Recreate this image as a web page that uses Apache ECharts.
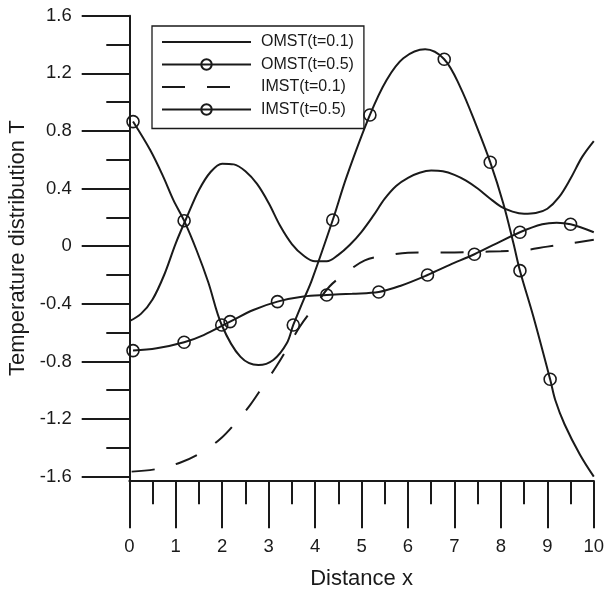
<!DOCTYPE html>
<html>
<head>
<meta charset="utf-8">
<script src="https://cdn.jsdelivr.net/npm/echarts@6/dist/echarts.min.js"></script>
<style>
html,body{margin:0;padding:0;background:#fff;}
#chart{width:606px;height:592px;}
</style>
</head>
<body>
<div id="chart"></div>
<script>
// ---- data ----
const xTicks = [0,1,2,3,4,5,6,7,8,9,10];
const yTicks = [-1.6,-1.2,-0.8,-0.4,0,0.4,0.8,1.2,1.6];
const yMinorTicks = [-1.4,-1.0,-0.6,-0.2,0.2,0.6,1.0,1.4];

const omst01X = [0,0.25,0.5,0.75,1.0,1.25,1.5,1.75,2.0,2.25,2.5,2.75,3.0,3.25,3.5,3.75,4.0,4.25,4.5,4.75,5.0,5.25,5.5,5.75,6.0,6.25,6.5,6.75,7.0,7.25,7.5,7.75,8.0,8.25,8.5,8.75,9.0,9.25,9.5,9.75,10];
const omst01Y = [-0.52,-0.47,-0.37,-0.2,0.02,0.21,0.39,0.515,0.573,0.568,0.52,0.432,0.3,0.14,0.015,-0.065,-0.105,-0.105,-0.06,0.01,0.1,0.21,0.33,0.42,0.475,0.51,0.525,0.52,0.495,0.455,0.4,0.335,0.275,0.24,0.225,0.23,0.26,0.34,0.47,0.62,0.73];

const omst05X = [0.08,0.45,0.73,0.95,1.18,1.45,1.7,1.99,2.39,2.78,3.1,3.39,3.53,3.75,3.93,4.38,4.68,5.18,5.54,5.9,6.37,6.78,7.12,7.48,7.77,8.05,8.27,8.41,8.7,9.06,9.17,9.37,9.7,10];
const omst05Y = [0.865,0.667,0.483,0.32,0.177,-0.03,-0.25,-0.547,-0.767,-0.825,-0.79,-0.674,-0.547,-0.374,-0.235,0.182,0.483,0.911,1.154,1.305,1.367,1.298,1.108,0.83,0.583,0.298,0.02,-0.17,-0.49,-0.924,-1.068,-1.236,-1.446,-1.6];
const omst05Marks = [0,4,7,12,15,17,21,24,27,29];

const imst01X = [0.05,0.59,1.09,1.52,1.95,2.28,2.6,2.88,3.17,3.42,3.67,3.96,4.31,4.65,5.07,5.57,6.0,6.5,7.0,7.5,8.0,8.5,9.0,9.5,10];
const imst01Y = [-1.565,-1.547,-1.503,-1.438,-1.341,-1.23,-1.103,-0.971,-0.832,-0.698,-0.559,-0.431,-0.28,-0.19,-0.098,-0.063,-0.045,-0.043,-0.043,-0.04,-0.035,-0.028,-0.003,0.02,0.045];

const imst05X = [0.08,0.59,1.18,1.6,2.17,2.67,3.19,3.75,4.25,4.8,5.37,5.83,6.42,6.9,7.43,7.91,8.41,8.89,9.2,9.5,10];
const imst05Y = [-0.725,-0.709,-0.667,-0.617,-0.524,-0.443,-0.385,-0.35,-0.339,-0.33,-0.318,-0.276,-0.2,-0.13,-0.056,0.02,0.097,0.152,0.163,0.152,0.097];
const imst05Marks = [0,2,4,6,8,10,12,14,16,19];

const seriesNames = ['OMST(t=0.1)','OMST(t=0.5)','IMST(t=0.1)','IMST(t=0.5)'];

// ---- build ----
const INK = '#1a1a1a';
const FONT = 'Liberation Sans, Arial, Helvetica, sans-serif';
function pts(xs, ys, marks) {
  return xs.map((x, i) => {
    const item = { value: [x, ys[i]] };
    if (marks) item.symbol = marks.indexOf(i) >= 0 ? 'circle' : 'none';
    return item;
  });
}
const lineBase = { type: 'line', smooth: 0.35, animation: false, xAxisIndex: 0, yAxisIndex: 0 };
const hidden = { opacity: 0, color: 'rgba(0,0,0,0)', borderWidth: 0 };

const chart = echarts.init(document.getElementById('chart'), null, { renderer: 'canvas' });
chart.setOption({
  animation: false,
  backgroundColor: '#fff',
  grid: { left: 129.3, right: 12.2, top: 15.7, bottom: 111.3, containLabel: false, outerBoundsMode: 'none' },
  legend: {
    orient: 'vertical', left: 152, top: 26,
    padding: [8, 10, 11, 9],
    itemWidth: 89, itemHeight: 13, itemGap: 6.5,
    borderColor: INK, borderWidth: 1.3,
    textStyle: { fontFamily: FONT, fontSize: 16, color: INK, padding: [0, 0, 0, 5] },
    data: [
      { name: seriesNames[0], itemStyle: hidden },
      { name: seriesNames[1] },
      { name: seriesNames[2], itemStyle: hidden },
      { name: seriesNames[3] }
    ]
  },
  xAxis: {
    type: 'value', min: 0, max: 10, interval: 1,
    name: 'Distance x', nameLocation: 'middle', nameGap: 87,
    nameTextStyle: { fontFamily: FONT, fontSize: 22, color: INK },
    axisLine: { show: true, onZero: false, lineStyle: { color: INK, width: 2 } },
    axisTick: { show: true, length: 47.6, lineStyle: { color: INK, width: 2 } },
    minorTick: { show: true, splitNumber: 2, length: 23.6, lineStyle: { color: INK, width: 2 } },
    axisLabel: { fontFamily: FONT, fontSize: 18.5, color: INK, margin: 57 },
    splitLine: { show: false }, minorSplitLine: { show: false }
  },
  yAxis: [{
    type: 'value', min: -1.628, max: 1.6,
    name: 'Temperature distribution T', nameLocation: 'middle', nameGap: 100,
    nameTextStyle: { fontFamily: FONT, fontSize: 22, color: INK },
    axisLine: { show: true, onZero: false, lineStyle: { color: INK, width: 2 } },
    axisTick: { show: true, length: 47.6, customValues: yTicks, lineStyle: { color: INK, width: 2 } },
    axisLabel: { fontFamily: FONT, fontSize: 18.5, color: INK, margin: 57.6, customValues: yTicks,
      formatter: v => String(Math.round(v * 10) / 10) },
    splitLine: { show: false }
  }, {
    type: 'value', min: -1.628, max: 1.6, position: 'left',
    axisLine: { show: false },
    axisTick: { show: true, length: 23, customValues: yMinorTicks, lineStyle: { color: INK, width: 2 } },
    axisLabel: { show: false },
    splitLine: { show: false }
  }],
  series: [
    Object.assign({}, lineBase, {
      name: seriesNames[0], symbol: 'none',
      lineStyle: { color: INK, width: 2 }, itemStyle: { color: INK },
      data: pts(omst01X, omst01Y)
    }),
    Object.assign({}, lineBase, {
      name: seriesNames[1], symbol: 'circle', symbolSize: 12, showSymbol: true,
      lineStyle: { color: INK, width: 2 },
      itemStyle: { color: 'rgba(255,255,255,0)', borderColor: INK, borderWidth: 1.6 },
      data: pts(omst05X, omst05Y, omst05Marks)
    }),
    Object.assign({}, lineBase, {
      name: seriesNames[2], symbol: 'none',
      lineStyle: { color: INK, width: 2, type: [23, 22] }, itemStyle: { color: INK },
      data: pts(imst01X, imst01Y)
    }),
    Object.assign({}, lineBase, {
      name: seriesNames[3], symbol: 'circle', symbolSize: 12, showSymbol: true,
      lineStyle: { color: INK, width: 2 },
      itemStyle: { color: 'rgba(255,255,255,0)', borderColor: INK, borderWidth: 1.6 },
      data: pts(imst05X, imst05Y, imst05Marks)
    })
  ]
});
</script>
</body>
</html>
